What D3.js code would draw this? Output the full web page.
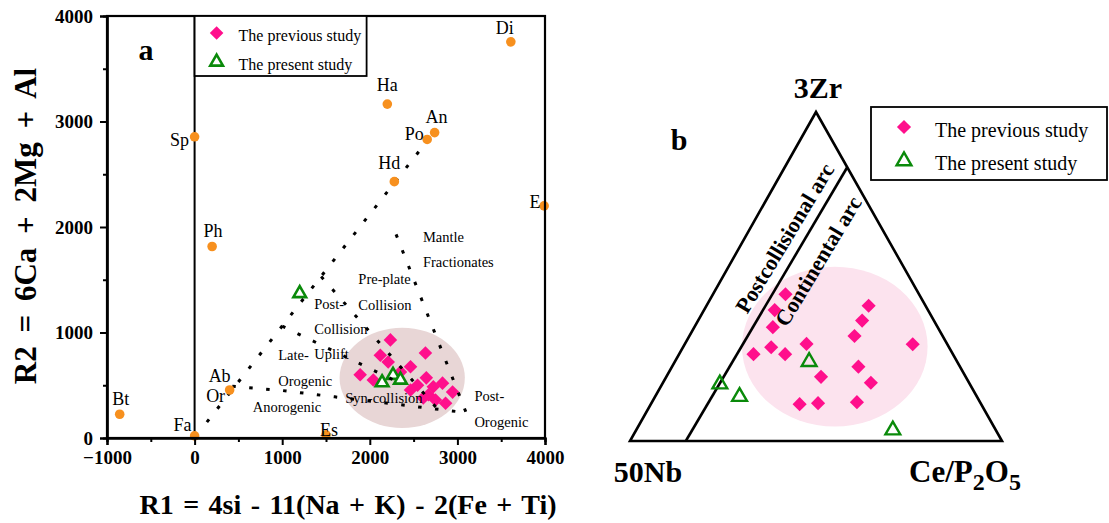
<!DOCTYPE html>
<html><head><meta charset="utf-8">
<script src="https://cdn.jsdelivr.net/npm/d3@7"></script>
<style>
body{margin:0;background:#fff;}
svg{display:block;}
text{font-family:"Liberation Serif","Times New Roman",serif;fill:#000;}
</style>
</head><body>
<svg id="chart" width="1109" height="523"></svg>
<script>
// ---------------- Panel a data (R1-R2 diagram) ----------------
const minerals   = ["Di","Ha","An","Po","Hd","E","Sp","Ph","AbOr","Bt","Fa","Es"];
const mineralR1  = [3610,2200,2740,2655,2280,3990,0,200,400,-855,0,1500];
const mineralR2  = [3755,3165,2895,2830,2430,2200,2855,1815,455,225,20,30];

const prevR1 = [2235,2120,2210,2635,1890,2040,2465,2350,2545,2645,2725,2830,2945,2610,2750,2865,2670,2465];
const prevR2 = [930,785,720,805,600,550,675,625,500,570,485,520,435,380,360,330,410,455];

const presR1 = [1200,2140,2265,2350];
const presR2 = [1370,525,595,550];

const xTicks = [-1000,0,1000,2000,3000,4000];
const yTicks = [0,1000,2000,3000,4000];
const xMinor = [-500,500,1500,2500,3500];
const yMinor = [500,1500,2500,3500];

// field boundaries (R1,R2)
const lineDiagonal   = [[140,150],[2650,2810]];
const lineAnorogenic = [[430,490],[1000,450],[1600,390],[2300,320],[3100,240]];
const lineMantle     = [[2300,1930],[3100,240]];
const linePostCol    = [[1445,1530],[2800,250]];
const lineLateOro    = [[1000,1060],[2320,530]];

const fieldNames = ["Mantle","Fractionates","Pre-plate","Collision","Post-","Collision","Late-","Uplift","Orogenic","Anorogenic","Syn-collision","Post-","Orogenic"];
const fieldR1    = [2606,2606,1869,1869,1366,1366,954,1366,954,663,1720,3194,3194];
const fieldR2    = [1905,1668,1507,1261,1270,1033,787,796,540,294,379,398,152];

const ellipseA = {r1:2370, r2:570, dr1:715, dr2:475};

// ---------------- Panel b data (ternary 3Zr - 50Nb - Ce/P2O5) ----------------
const prevZr = [44.6,41.1,39.8,36.6,34.6,31.9,29.4,29.5,28.5,26.4,26.4,22.6,19.5,17.7,11.2,11.5,11.8];
const prevNb = [35.9,15.3,41.2,19.3,44.3,23.7,9.3,37.8,47.8,53.6,45.1,27.3,38.9,26.4,48.8,43.7,33.1];
const prevCe = [19.5,43.6,19.0,44.1,21.1,44.4,61.3,32.7,23.7,20.0,28.5,50.1,41.6,55.9,40.0,44.8,55.1];

const presZr = [24.1,17.3,13.5,3.3];
const presNb = [39.8,67.2,63.8,27.7];
const presCe = [36.1,15.5,22.7,69.0];

const arcBoundary = [[0,85,15],[83.2,0,16.8]];     // [Zr,Nb,Ce]
const ellipseB = {zr:28.7, nb:30.6, ce:40.7, rw:0.2495, rh:0.243};

const legendLabels = ["The previous study","The present study"];

// ---------------- Drawing ----------------
const svg = d3.select("#chart");
const PINK = "#ff0f8c", GREEN = "#0a8a0a", ORANGE = "#f7901e";
const diamond = d3.symbol().type(d3.symbolSquare);
const tri = d3.symbol().type(d3.symbolTriangle);

// ===== Panel a =====
const x = d3.scaleLinear().domain([-1000,4000]).range([107,545]);
const y = d3.scaleLinear().domain([0,4000]).range([438,16]);
const ga = svg.append("g");

ga.append("ellipse")
  .attr("cx", x(ellipseA.r1)).attr("cy", y(ellipseA.r2))
  .attr("rx", x(ellipseA.dr1) - x(0)).attr("ry", y(0) - y(ellipseA.dr2))
  .attr("fill", "#e8d6d6");

// x=0 line
ga.append("line").attr("x1", x(0)).attr("x2", x(0)).attr("y1", y(0)).attr("y2", y(4000))
  .attr("stroke", "#000").attr("stroke-width", 2);

// previous study diamonds
ga.selectAll(".pd").data(prevR1).join("path")
  .attr("d", diamond.size(92)())
  .attr("transform", (d,i) => `translate(${x(d)},${y(prevR2[i])}) rotate(45)`)
  .attr("fill", PINK);

// present study triangles
ga.selectAll(".pt").data(presR1).join("path")
  .attr("d", tri.size(70)())
  .attr("transform", (d,i) => `translate(${x(d)},${y(presR2[i])})`)
  .attr("fill", "#fff").attr("stroke", GREEN).attr("stroke-width", 2.6);

// dotted boundaries
const lg = d3.line().x(d => x(d[0])).y(d => y(d[1]));
[lineDiagonal, lineAnorogenic, lineMantle, linePostCol, lineLateOro].forEach(L => {
  ga.append("path").attr("d", lg(L)).attr("fill", "none")
    .attr("stroke", "#000").attr("stroke-width", 3).attr("stroke-dasharray", "3.5 13.5");
});

// field names
ga.selectAll(".fn").data(fieldNames).join("text")
  .attr("x", (d,i) => x(fieldR1[i])).attr("y", (d,i) => y(fieldR2[i]))
  .attr("dy", "0.35em").attr("font-size", 14.5).text(d => d);

// end-member minerals
ga.selectAll(".mn").data(minerals).join("circle")
  .attr("cx", (d,i) => x(mineralR1[i])).attr("cy", (d,i) => y(mineralR2[i]))
  .attr("r", 4.8).attr("fill", ORANGE);
const labOff = {Di:[-6,-14],Ha:[0,-19],An:[2,-16],Po:[-13,-6],Hd:[-5,-19],E:[-9,-4],Sp:[-15,3],Ph:[1,-16],Bt:[1,-16],Fa:[-12,-11],Es:[3,-5]};
minerals.forEach((m,i) => {
  const px = x(mineralR1[i]), py = y(mineralR2[i]);
  if (m === "AbOr") {
    ga.append("text").attr("x", px-10).attr("y", py-14).attr("dy","0.35em").attr("text-anchor","middle").attr("font-size",18).text("Ab");
    ga.append("text").attr("x", px-14).attr("y", py+6).attr("dy","0.35em").attr("text-anchor","middle").attr("font-size",18).text("Or");
  } else {
    const o = labOff[m];
    ga.append("text").attr("x", px+o[0]).attr("y", py+o[1]).attr("dy","0.35em").attr("text-anchor","middle").attr("font-size",18).text(m);
  }
});

// axes
ga.append("g").attr("transform", `translate(0,${y(0)})`)
  .call(d3.axisBottom(x).tickValues(xTicks).tickSize(7).tickPadding(6).tickFormat(d3.format("d")));
ga.append("g").attr("transform", `translate(0,${y(0)})`)
  .call(d3.axisBottom(x).tickValues(xMinor).tickSize(4).tickFormat(""));
ga.append("g").attr("transform", `translate(${x(-1000)},0)`)
  .call(d3.axisLeft(y).tickValues(yTicks).tickSize(7).tickPadding(7).tickFormat(d3.format("d")));
ga.append("g").attr("transform", `translate(${x(-1000)},0)`)
  .call(d3.axisLeft(y).tickValues(yMinor).tickSize(4).tickFormat(""));
ga.selectAll(".domain").attr("stroke-width", 2.2);
ga.selectAll(".tick line").attr("stroke-width", 2);
ga.selectAll(".tick text").attr("font-family","Liberation Serif").attr("font-weight","bold").attr("font-size",19);

// frame
ga.append("rect").attr("x", x(-1000)).attr("y", y(4000)).attr("width", x(4000)-x(-1000)).attr("height", y(0)-y(4000))
  .attr("fill","none").attr("stroke","#000").attr("stroke-width",2.2);

// legend a
ga.append("rect").attr("x", x(0)).attr("y", y(4000)).attr("width", 172).attr("height", 60)
  .attr("fill","#fff").attr("stroke","#000").attr("stroke-width",1.8);
ga.append("path").attr("d", diamond.size(92)()).attr("transform",`translate(${x(0)+22},33) rotate(45)`).attr("fill",PINK);
ga.append("path").attr("d", tri.size(70)()).attr("transform",`translate(${x(0)+22},62)`).attr("fill","#fff").attr("stroke",GREEN).attr("stroke-width",2.6);
ga.selectAll(".lt").data(legendLabels).join("text")
  .attr("x", x(0)+44).attr("y", (d,i) => 35 + i*29).attr("dy","0.35em").attr("font-size",16).text(d => d);

// titles
ga.append("text").attr("x",146).attr("y",60).attr("text-anchor","middle").attr("font-weight","bold").attr("font-size",30).text("a");
ga.append("text").attr("transform","translate(36,226) rotate(-90)").attr("text-anchor","middle")
  .attr("font-weight","bold").attr("font-size",31).attr("word-spacing",6).text("R2 = 6Ca + 2Mg + Al");
ga.append("text").attr("x",348).attr("y",514).attr("text-anchor","middle")
  .attr("font-weight","bold").attr("font-size",28).attr("word-spacing",2.5).text("R1 = 4si - 11(Na + K) - 2(Fe + Ti)");

// ===== Panel b =====
const tx = d3.scaleLinear().domain([0,1]).range([630,1002]);
const ty = d3.scaleLinear().domain([0,1]).range([441,112]);
function tern(zr, nb, ce) { const s = zr+nb+ce, a = zr/s, c = ce/s; return [tx(c + a/2), ty(a)]; }
const gb = svg.append("g");

const ec = tern(ellipseB.zr, ellipseB.nb, ellipseB.ce);
gb.append("ellipse").attr("cx", ec[0]).attr("cy", ec[1])
  .attr("rx", tx(ellipseB.rw)-tx(0)).attr("ry", ty(0)-ty(ellipseB.rh)).attr("fill","#fce3ee");

const tline = d3.line().x(d => tern(...d)[0]).y(d => tern(...d)[1]);
gb.append("path").attr("d", tline([[100,0,0],[0,100,0],[0,0,100]]) + "Z")
  .attr("fill","none").attr("stroke","#000").attr("stroke-width",2.6).attr("stroke-linejoin","miter");
gb.append("path").attr("d", tline(arcBoundary)).attr("fill","none").attr("stroke","#000").attr("stroke-width",2.6);

gb.selectAll(".bd").data(prevZr).join("path")
  .attr("d", diamond.size(100)())
  .attr("transform", (d,i) => { const p = tern(d, prevNb[i], prevCe[i]); return `translate(${p[0]},${p[1]}) rotate(45)`; })
  .attr("fill", PINK);
gb.selectAll(".bt").data(presZr).join("path")
  .attr("d", tri.size(95)())
  .attr("transform", (d,i) => { const p = tern(d, presNb[i], presCe[i]); return `translate(${p[0]},${p[1]})`; })
  .attr("fill","none").attr("stroke",GREEN).attr("stroke-width",2.4);

const pc = tern(61.7, 27.6, 10.7), cc = tern(54.7, 22.1, 23.2);
gb.append("text").attr("transform",`translate(${pc[0]},${pc[1]}) rotate(-59)`).attr("text-anchor","middle").attr("dy","0.35em")
  .attr("font-weight","bold").attr("font-size",22).text("Postcollisional arc");
gb.append("text").attr("transform",`translate(${cc[0]},${cc[1]}) rotate(-59)`).attr("text-anchor","middle").attr("dy","0.35em")
  .attr("font-weight","bold").attr("font-size",22).text("Continental arc");

const vTop = tern(100,0,0), vL = tern(0,100,0), vR = tern(0,0,100);
gb.append("text").attr("x", vTop[0]+2).attr("y", 98).attr("text-anchor","middle").attr("font-weight","bold").attr("font-size",30).text("3Zr");
gb.append("text").attr("x", vL[0]+18).attr("y", 482).attr("text-anchor","middle").attr("font-weight","bold").attr("font-size",30).text("50Nb");
const ce = gb.append("text").attr("x", vR[0]-37).attr("y", 482).attr("text-anchor","middle").attr("font-weight","bold").attr("font-size",31);
ce.append("tspan").text("Ce/P");
ce.append("tspan").attr("dy",8).attr("font-size",24).text("2");
ce.append("tspan").attr("dy",-8).text("O");
ce.append("tspan").attr("dy",8).attr("font-size",24).text("5");

gb.append("text").attr("x",679).attr("y",150).attr("text-anchor","middle").attr("font-weight","bold").attr("font-size",30).text("b");

// legend b
gb.append("rect").attr("x",871).attr("y",107).attr("width",236).attr("height",73)
  .attr("fill","#fff").attr("stroke","#000").attr("stroke-width",1.8);
gb.append("path").attr("d", diamond.size(100)()).attr("transform","translate(904,127) rotate(45)").attr("fill",PINK);
gb.append("path").attr("d", tri.size(95)()).attr("transform","translate(904,161)").attr("fill","none").attr("stroke",GREEN).attr("stroke-width",2.4);
gb.selectAll(".lb").data(legendLabels).join("text")
  .attr("x",935).attr("y",(d,i) => 130 + i*33).attr("dy","0.35em").attr("font-size",20).text(d => d);
</script>
</body></html>
